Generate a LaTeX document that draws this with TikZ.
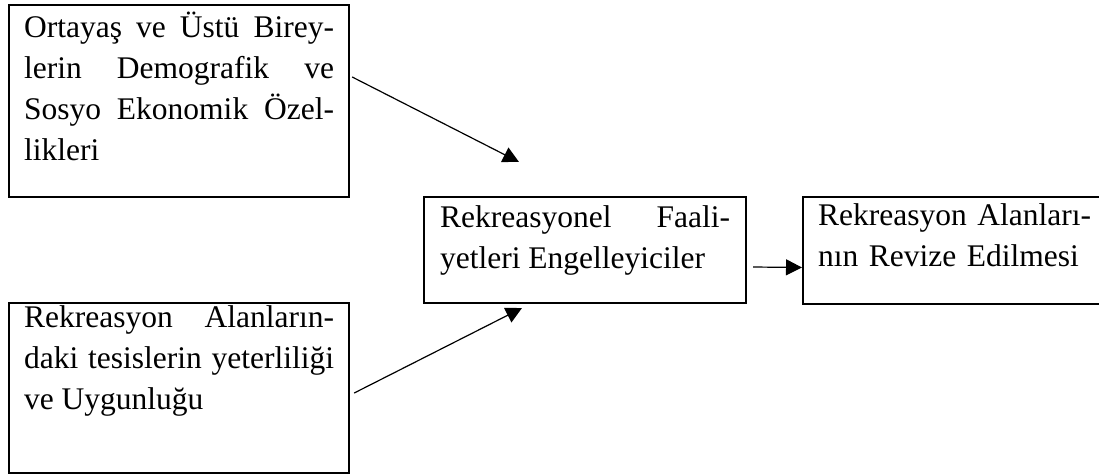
\documentclass[tikz,border=0pt]{standalone}
\usepackage{fontspec}
\setmainfont{Liberation Serif}
\usetikzlibrary{arrows.meta}
\hyphenpenalty=10000

\begin{document}
\begin{tikzpicture}[
  x=1pt, y=-1pt,
  font=\fontsize{31.5}{41}\selectfont,
  box/.style={draw, line width=2.2pt, anchor=base west, align=justify,
    inner xsep=15pt, inner ysep=0pt},
  arrow/.style={-{Triangle[length=16pt,width=16pt]}, line width=1.2pt}
]
\useasboundingbox (0,0) rectangle (1099,474);
% left column
\node[box, text width=310pt, text height=32pt, text depth=160pt] (demo) at (8,37)
  {Ortayaş ve Üstü Birey-\linebreak lerin Demografik ve\linebreak Sosyo Ekonomik Özel-\linebreak likleri};
\node[box, text width=310pt, text height=24pt, text depth=146pt] (tesis) at (8,327)
  {Rekreasyon Alanların-\linebreak daki tesislerin yeterliliği\linebreak ve Uygunluğu};
% middle and right
\node[box, inner xsep=16pt, text width=290pt, text height=30pt, text depth=76pt] (engel) at (423,227)
  {Rekreasyonel Faali-\linebreak yetleri Engelleyiciler};
\node[box, align=left, text width=300pt, text height=28pt, text depth=79pt] (revize) at (802,225)
  {Rekreasyon Alanları-\\nın Revize Edilmesi};
\coordinate (t1) at (519,162);
\coordinate (t2) at (522,308);
\draw[arrow] ([xshift=2pt, yshift=24pt]demo.east) -- (t1);
\draw[arrow] ([xshift=4pt, yshift=-5pt]tesis.east) -- (t2);
\draw[arrow] ([xshift=6pt, yshift=-17pt]engel.east) -- ([yshift=-17pt]revize.west);
\end{tikzpicture}
\end{document}
